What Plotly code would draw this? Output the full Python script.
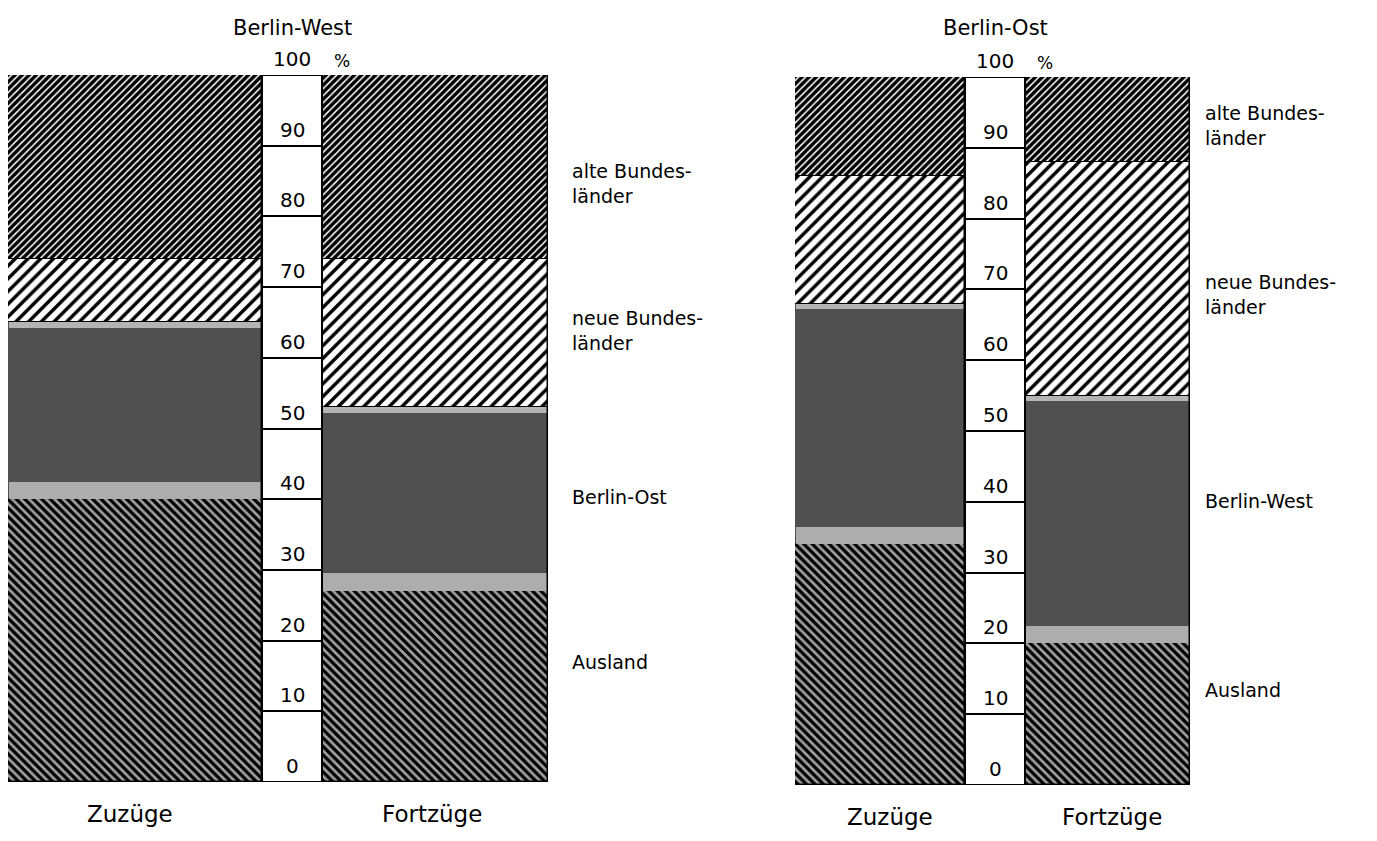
import plotly.graph_objects as go

# ---------------- data (percent shares) ----------------
categories = ["Zuzüge", "Fortzüge"]
segments_west = ["Ausland", "Berlin-Ost", "neue Bundesländer", "alte Bundesländer"]
segments_ost = ["Ausland", "Berlin-West", "neue Bundesländer", "alte Bundesländer"]

west_zuzuege = [40, 25, 9, 26]
west_fortzuege = [27, 26, 21, 26]
ost_zuzuege = [34, 34, 18, 14]
ost_fortzuege = [20, 35, 33, 12]

scale_ticks = [0, 10, 20, 30, 40, 50, 60, 70, 80, 90]

# ---------------- styles / geometry ----------------
FONT = "DejaVu Sans"
WIN_W, WIN_H = 1377, 841
OFF = 8                      # default body margin of the html page
W, H = WIN_W - 2 * OFF, WIN_H - 2 * OFF


def px(x):
    return (x - OFF) / W


def py(y):
    return 1 - (y - OFF) / H


seg_styles = [
    dict(color="#a2a2a2", pattern=dict(shape="\\", fgcolor="black", bgcolor="#a2a2a2",
                                       fgopacity=1, size=6, solidity=0.55)),
    dict(color="#505050", pattern=None),
    dict(color="white", pattern=dict(shape="/", fgcolor="black", bgcolor="white",
                                     fgopacity=1, size=9, solidity=0.38)),
    dict(color="white", pattern=dict(shape="/", fgcolor="black", bgcolor="white",
                                     fgopacity=1, size=5, solidity=0.7)),
]

panels = [
    dict(name="Berlin-West", segs=segments_west, zu=west_zuzuege, fo=west_fortzuege,
         x0=8, x1=548, ytop=75, ybot=782,
         zu_c=127, zu_w=254, sc_c=284, sc_w=60, fo_c=427, fo_w=226,
         label_x=570, label_y=[662, 497, 330, 183],
         cat_x=[130, 432], cat_y=814, title_x=292),
    dict(name="Berlin-Ost", segs=segments_ost, zu=ost_zuzuege, fo=ost_fortzuege,
         x0=795, x1=1190, ytop=77, ybot=785,
         zu_c=85, zu_w=170, sc_c=200, sc_w=60, fo_c=312.5, fo_w=165,
         label_x=1203, label_y=[690, 501, 294, 125],
         cat_x=[890, 1112], cat_y=817, title_x=995),
]

fig = go.Figure()
annotations = []
BAND_LOW, BAND_HIGH = 2.5, 0.8

for i, p in enumerate(panels):
    xa = "x" if i == 0 else "x2"
    ya = "y" if i == 0 else "y2"
    base_zu, base_fo = 0, 0
    bases = []
    for k in range(4):
        st = seg_styles[k]
        marker = dict(color=st["color"], line=dict(color="black", width=1))
        if st["pattern"] is not None:
            marker["pattern"] = st["pattern"]
        fig.add_trace(go.Bar(
            x=[p["zu_c"], p["fo_c"]], y=[p["zu"][k], p["fo"][k]],
            base=[base_zu, base_fo], width=[p["zu_w"], p["fo_w"]],
            marker=marker, xaxis=xa, yaxis=ya, showlegend=False, hoverinfo="skip"))
        bases.append((base_zu, base_fo))
        base_zu += p["zu"][k]
        base_fo += p["fo"][k]
    # light halftone bands at the edges of the Berlin segment
    b_zu, b_fo = bases[1]
    fig.add_trace(go.Bar(
        x=[p["zu_c"], p["fo_c"]], y=[BAND_LOW, BAND_LOW], base=[b_zu, b_fo],
        width=[p["zu_w"] - 1.5, p["fo_w"] - 1.5],
        marker=dict(color="#adadad", line=dict(width=0)),
        xaxis=xa, yaxis=ya, showlegend=False, hoverinfo="skip"))
    fig.add_trace(go.Bar(
        x=[p["zu_c"], p["fo_c"]], y=[BAND_HIGH, BAND_HIGH],
        base=[b_zu + p["zu"][1] - BAND_HIGH, b_fo + p["fo"][1] - BAND_HIGH],
        width=[p["zu_w"] - 1.5, p["fo_w"] - 1.5],
        marker=dict(color="#b4b4b4", line=dict(width=0)),
        xaxis=xa, yaxis=ya, showlegend=False, hoverinfo="skip"))
    # outline of the two bars
    fig.add_trace(go.Bar(
        x=[p["zu_c"], p["fo_c"]], y=[100, 100], base=[0, 0], width=[p["zu_w"], p["fo_w"]],
        marker=dict(color="rgba(0,0,0,0)", line=dict(color="black", width=1.5)),
        xaxis=xa, yaxis=ya, showlegend=False, hoverinfo="skip"))
    # central scale column
    fig.add_trace(go.Bar(
        x=[p["sc_c"]] * len(scale_ticks), y=[10] * len(scale_ticks), base=scale_ticks,
        width=p["sc_w"],
        marker=dict(color="white", line=dict(color="black", width=2)),
        xaxis=xa, yaxis=ya, showlegend=False, hoverinfo="skip"))
    for t in scale_ticks + [100]:
        annotations.append(dict(x=p["sc_c"], y=t, xref=xa, yref=ya, text=str(t),
                                showarrow=False, yanchor="bottom", yshift=2,
                                font=dict(family=FONT, size=20, color="black")))
    annotations.append(dict(x=p["sc_c"] + 50, y=100, xref=xa, yref=ya, text="%",
                            showarrow=False, yanchor="bottom", yshift=2,
                            font=dict(family=FONT, size=17, color="black")))
    # title
    annotations.append(dict(x=px(p["title_x"]), y=py(28), xref="paper", yref="paper",
                            text=p["name"], showarrow=False, xanchor="center", yanchor="middle",
                            font=dict(family=FONT, size=21, color="black")))
    # segment labels on the right
    for k in range(4):
        lab = p["segs"][k]
        if lab.endswith("Bundesländer"):
            lab = lab.replace("Bundesländer", "Bundes-<br>länder")
        annotations.append(dict(x=px(p["label_x"]), y=py(p["label_y"][k]), xref="paper",
                                yref="paper", text=lab, showarrow=False, xanchor="left",
                                yanchor="middle", align="left",
                                font=dict(family=FONT, size=19, color="black")))
    # category labels below
    for c, cx in zip(categories, p["cat_x"]):
        annotations.append(dict(x=px(cx), y=py(p["cat_y"]), xref="paper", yref="paper",
                                text=c, showarrow=False, xanchor="center", yanchor="middle",
                                font=dict(family=FONT, size=23, color="black")))

    p["xdom"] = [px(p["x0"]), px(p["x1"])]
    p["ydom"] = [py(p["ybot"]), py(p["ytop"])]

axis_common = dict(showgrid=False, zeroline=False, showticklabels=False, showline=False, ticks="")
fig.update_layout(
    width=W, height=H, margin=dict(l=0, r=0, t=0, b=0),
    paper_bgcolor="white", plot_bgcolor="white", barmode="overlay", bargap=0,
    xaxis=dict(domain=panels[0]["xdom"], range=[0, panels[0]["x1"] - panels[0]["x0"]], **axis_common),
    yaxis=dict(domain=panels[0]["ydom"], range=[0, 100], **axis_common),
    xaxis2=dict(domain=panels[1]["xdom"], range=[0, panels[1]["x1"] - panels[1]["x0"]], anchor="y2", **axis_common),
    yaxis2=dict(domain=panels[1]["ydom"], range=[0, 100], anchor="x2", **axis_common),
    annotations=annotations,
    font=dict(family=FONT),
)

fig.write_html("out.html")
